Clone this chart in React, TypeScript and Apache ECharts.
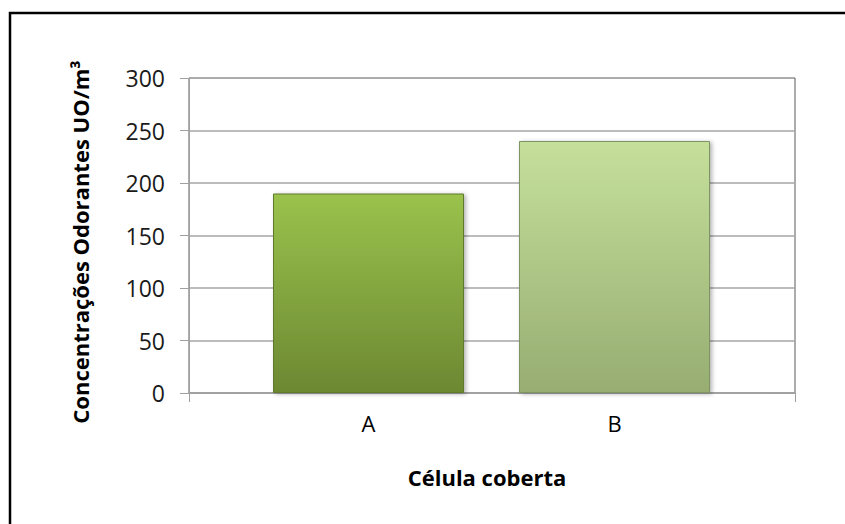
import React, { useEffect, useRef } from "react";
import * as echarts from "echarts";

const categories = ["A", "B"];
const values = [190, 240];
const yTicks = { min: 0, max: 300, interval: 50 };
const yTitle = "Concentrações Odorantes UO/m³";
const xTitle = "Célula coberta";

const barTop = ["#9ac24c", "#c5e09b"];
const barBottom = ["#6c8832", "#97ad72"];
const barEdge = ["#5e7a2a", "#7f9463"];

const FONT = "'Open Sans', 'DejaVu Sans', sans-serif";

export default function App() {
  const ref = useRef<HTMLDivElement>(null);
  useEffect(() => {
    if (!ref.current) return;
    const chart = echarts.init(ref.current, null, { renderer: "svg" });
    const gridBox = { left: 189, right: 50, top: 78, bottom: 131 };
    const barGrid = { left: 245.5, right: 107.5, top: 78, bottom: 131 };
    chart.setOption({
      animation: false,
      backgroundColor: "#ffffff",
      textStyle: { fontFamily: FONT },
      grid: [
        { ...gridBox, show: true, borderColor: "#5a5a5a", borderWidth: 1, backgroundColor: "transparent" },
        { ...barGrid },
      ],
      xAxis: [
        {
          gridIndex: 0,
          type: "value",
          min: 0,
          max: 1,
          interval: 1,
          axisLine: { show: true, lineStyle: { color: "#a0a0a0", width: 1.5 } },
          axisTick: { show: true, length: 9, lineStyle: { color: "#a0a0a0" } },
          axisLabel: { show: false },
          splitLine: { show: false },
        },
        {
          gridIndex: 1,
          type: "category",
          data: categories,
          axisLine: { show: false },
          axisTick: { show: false },
          axisLabel: { fontSize: 22, color: "#000", margin: 19, fontFamily: FONT },
        },
      ],
      yAxis: [
        {
          gridIndex: 0,
          type: "value",
          min: yTicks.min,
          max: yTicks.max,
          interval: yTicks.interval,
          axisLine: { show: true, lineStyle: { color: "#a0a0a0", width: 1 } },
          axisTick: { show: true, length: 9, lineStyle: { color: "#a0a0a0" } },
          axisLabel: { fontSize: 23, color: "#1a1a1a", margin: 24, fontFamily: FONT },
          splitLine: { show: true, showMaxLine: false, lineStyle: { color: "#a6a6a6", width: 1.5 } },
        },
        {
          gridIndex: 1,
          type: "value",
          min: yTicks.min,
          max: yTicks.max,
          interval: yTicks.interval,
          show: false,
        },
      ],
      graphic: [
        {
          type: "rect",
          shape: { x: 10, y: 13, width: 900, height: 600 },
          style: { fill: "none", stroke: "#000", lineWidth: 2.5 },
          silent: true,
        },
        {
          type: "text",
          x: 80,
          y: 242,
          rotation: Math.PI / 2,
          style: {
            text: yTitle,
            fill: "#000",
            font: `bold 22px ${FONT}`,
            textAlign: "center",
            textVerticalAlign: "middle",
          },
        },
        {
          type: "text",
          x: 487,
          y: 477,
          style: {
            text: xTitle,
            fill: "#000",
            font: `bold 22px ${FONT}`,
            textAlign: "center",
            textVerticalAlign: "middle",
          },
        },
      ],
      series: [
        {
          type: "bar",
          xAxisIndex: 1,
          yAxisIndex: 1,
          barWidth: 191,
          data: values.map((v, i) => ({
            value: v,
            itemStyle: {
              color: new echarts.graphic.LinearGradient(0, 0, 0, 1, [
                { offset: 0, color: barTop[i] },
                { offset: 1, color: barBottom[i] },
              ]),
              borderColor: barEdge[i],
              borderWidth: 1,
              shadowBlur: 4,
              shadowOffsetX: 2,
              shadowOffsetY: 1,
              shadowColor: "rgba(0,0,0,0.3)",
            },
          })),
        },
      ],
    });
    return () => chart.dispose();
  }, []);
  return (
    <div
      ref={ref}
      style={{ position: "fixed", left: 0, top: 0, width: 845, height: 524 }}
    />
  );
}
